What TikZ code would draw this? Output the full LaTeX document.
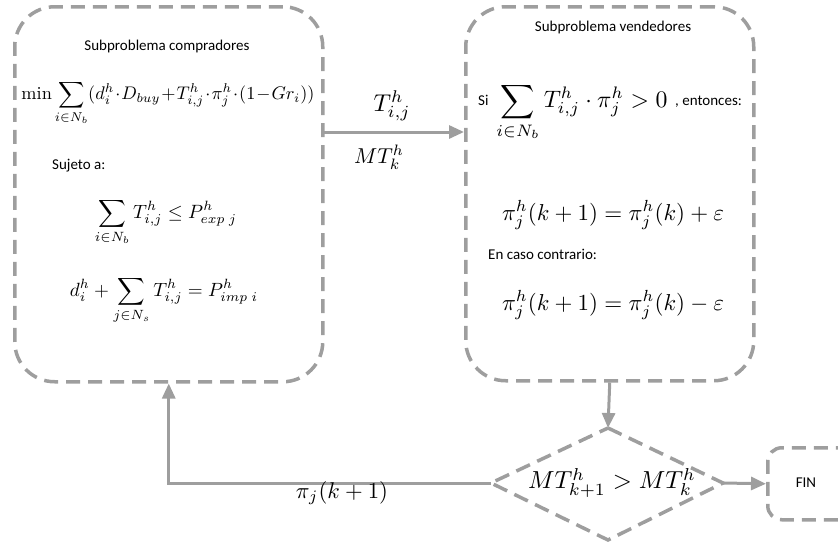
\documentclass[tikz,border=0pt]{standalone}
\usepackage{fontspec}
\setsansfont{Carlito}
\usepackage{graphicx}
\usetikzlibrary{arrows.meta}
\definecolor{lg}{RGB}{158,158,158}
\tikzset{
  dbox/.style={draw=lg, line width=3.5pt, dash pattern=on 14pt off 8pt, inner sep=0pt, anchor=north west},
  dline/.style={draw=lg, line width=3.5pt, dash pattern=on 15pt off 8pt},
  arr/.style={draw=lg, line width=3pt, -{Triangle[length=15pt,width=13pt]}},
  lbl/.style={font=\sffamily\fontsize{15}{17}\selectfont, inner sep=0pt},
  eq/.style={inner sep=0pt},
}
\begin{document}
\begin{tikzpicture}[x=1pt,y=-1pt]
\useasboundingbox (0,0) rectangle (838,544);
% boxes
\node[dbox, rounded corners=40pt, minimum width=308pt, minimum height=375pt] (L) at (13,5) {};
\node[dbox, rounded corners=40pt, minimum width=288pt, minimum height=374pt] (R) at (464,5) {};
\node[dbox, rounded corners=14pt, minimum width=140pt, minimum height=72pt] (F) at (766,446) {};
% diamond
\coordinate (Dt) at (608,428);
\coordinate (Dr) at (723,483);
\coordinate (Db) at (608,540);
\coordinate (Dl) at (491,483);
\draw[dline] (Dt) -- (Dr) -- (Db) -- (Dl) -- cycle;
\node[eq] (D) at (612,483) {\resizebox{168pt}{!}{$MT^h_{k+1} > MT^h_k$}};
% left box texts
\node[lbl] (t1) at (167,46) {Subproblema compradores};
\node[eq] (m1) at (168,103) {\resizebox{293pt}{!}{$\displaystyle \min\sum_{i\in N_b}(d_i^h\!\cdot\! D_{buy}\!+\!T^h_{i,j}\!\cdot\!\pi^h_j\!\cdot\!(1\!-\!Gr_i))$}};
\node[lbl, anchor=west] (t2) at (52,166) {Sujeto a:};
\node[eq] (m2) at (166,222) {\resizebox{142pt}{!}{$\displaystyle \sum_{i\in N_b} T^h_{i,j} \leq P^h_{exp\;j}$}};
\node[eq] (m3) at (164,300) {\resizebox{188pt}{!}{$\displaystyle d_i^h + \sum_{j\in N_s} T^h_{i,j} = P^h_{imp\;i}$}};
% right box texts
\node[lbl] (t3) at (613,27) {Subproblema vendedores};
\node[lbl, anchor=west] (t4) at (478,100) {Si};
\node[eq] (m4) at (582,112) {\resizebox{171pt}{!}{$\displaystyle \sum_{i\in N_b} T^h_{i,j}\cdot\pi^h_j > 0$}};
\node[lbl, anchor=west] (t5) at (675,102) {, entonces:};
\node[eq] (m5) at (613,215) {\resizebox{222pt}{!}{$\pi^h_j(k+1) = \pi^h_j(k) + \varepsilon$}};
\node[lbl, anchor=west] (t6) at (488,254) {En caso contrario:};
\node[eq] (m6) at (613,305) {\resizebox{222pt}{!}{$\pi^h_j(k+1) = \pi^h_j(k) - \varepsilon$}};
\node[lbl] (t7) at (806,483) {FIN};
% arrows
\coordinate (a1) at (321,132);
\draw[arr] (a1) -- (a1 -| R.west);
\node[eq] (l1) at (392,106) {\resizebox{37pt}{!}{$T^h_{i,j}$}};
\node[eq] (l2) at (379,157) {\resizebox{50pt}{!}{$MT^h_k$}};
\draw[arr] (R.south) -- (Dt);
\draw[arr] (Dl) -| (L.south);
\node[eq] (l3) at (342,493) {\resizebox{92pt}{!}{$\pi_j(k+1)$}};
\draw[arr] (Dr) -- (F.west);
\end{tikzpicture}
\end{document}
